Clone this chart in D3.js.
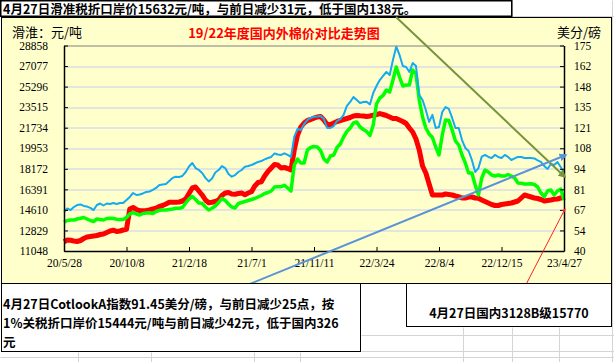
<!DOCTYPE html>
<html>
<head>
<meta charset="utf-8">
<script src="https://cdn.jsdelivr.net/npm/d3@7"></script>
<style>
  body { margin: 0; background: #fff; }
  svg { display: block; }
  .tick text { font-family: "Liberation Serif", serif; fill: #000; }
</style>
</head>
<body>
<div id="canvas"></div>
<script>
// weekly data, 2020/5/28 - 2023/4/27
var startDate = new Date(2020, 4, 28);

// Cotlook A index, cents/lb (right axis)
var cotlookA = [65.8,67.9,66.9,68.9,70.2,70.6,69.6,69.2,68.3,66.9,
70.2,71.2,69.9,71.2,70.9,71.5,70.9,71.5,71.5,73.5,
75.5,78.1,76.8,77.1,77.8,78.8,79.1,80.1,81.4,83.4,
83.7,84.0,86.0,88.0,88.8,88.6,89.3,91.9,95.5,97.8,
94.5,93.2,91.2,88.0,85.7,87.6,91.6,93.2,95.8,94.5,
90.6,88.8,89.9,91.9,93.2,95.4,95.8,96.5,97.5,98.5,
99.1,100.2,101.1,101.8,104.1,103.4,103.1,104.2,103.1,101.8,
114.9,120.2,119.5,123.4,126.1,127.4,128.2,128.4,128.7,126.7,
120.8,120.8,122.1,125.4,126.7,129.4,135.3,137.9,141.2,139.2,
137.2,137.9,138.1,136.3,143.8,148.4,152.3,155.0,157.6,155.6,
165.5,174.2,168.8,161.5,160.9,157.6,163.5,161.5,142.5,139.2,
132.6,124.8,129.4,120.8,121.5,131.3,134.6,133.3,127.4,120.8,
120.8,112.9,107.7,105.7,99.8,91.9,94.5,102.0,103.1,101.8,
101.1,103.1,101.8,101.1,103.1,101.8,99.8,100.8,101.8,101.8,
101.1,101.1,101.1,100.8,99.5,98.5,95.8,93.9,97.2,96.5,
98.5,95.2,91.45];

// 1% tariff landed price, yuan/t (left axis)
var tariff1 = [13535,13691,13735,13735,13821,13882,13951,13821,13691,13605,
13821,13778,13735,13865,13882,13865,13795,13778,13778,13951,
14255,14367,14255,14168,14298,14341,14367,14298,14471,14575,
14601,14601,14645,14688,14749,14749,14818,15208,15555,15772,
15512,15208,15182,14861,14601,14749,14948,15251,15598,15425,
15121,14861,14775,15165,15251,15338,15425,15512,15598,15728,
15858,16032,16118,16248,16595,16621,16621,16742,16508,16248,
18502,19022,18675,18675,19802,20018,20105,20062,19758,19022,
18762,19282,19368,20018,20322,20928,21405,21708,22142,22228,
21795,21578,21405,21058,21968,23788,24309,24525,25002,24829,
25869,26995,26129,25349,25435,25435,26735,26389,24135,22662,
21708,21188,20885,20062,19368,21102,22402,22358,21535,20582,
20235,19368,18675,17808,17808,16768,15902,17375,18068,17895,
17635,17548,17635,17548,17548,17678,17548,17375,16942,16916,
16855,16855,16872,16812,16595,16075,15754,16248,16335,15902,
16248,16422,15444];

// domestic 3128B, yuan/t (left axis)
var domestic = [11854,12001,11975,11915,11871,11958,12131,12261,12305,12348,
12391,12478,12521,12651,12781,12851,12738,12781,12868,12929,
14688,14818,14645,14541,14541,14558,14601,14688,14749,14905,
14991,15121,15269,15269,15277,15295,15382,15555,16032,16508,
16595,16248,15902,15468,15234,15269,15338,15468,15858,16075,
16118,15988,15971,16032,16075,15928,16075,16188,16682,16985,
17054,17548,17938,18242,18545,18502,18242,18285,18198,18068,
19802,21102,21795,22142,22358,22445,22558,22662,22705,22402,
22012,22012,22142,22272,22358,22445,22532,22618,22748,22792,
22766,22748,22705,22748,22818,22878,22957,22878,22792,22662,
22532,22532,22402,22272,22098,21708,21362,20755,19802,18415,
17808,16855,15902,15902,15902,15902,15988,15945,15902,15815,
15754,15641,15641,15728,15728,15641,15615,15468,15338,15208,
15078,14991,14991,15078,15121,15165,15208,15295,15382,15641,
15902,15815,15728,15641,15598,15511,15382,15425,15468,15529,
15555,15641,15770];

var leftTicks = [11048,12829,14610,16391,18172,19953,21734,23515,25296,27077,28858];
var rightTicks = [40,53.5,67,80.5,94,107.5,121,134.5,148,161.5,175];
var xTickLabels = ['2020-05-28','2020-10-08','2021-02-18','2021-07-01','2021-11-11',
  '2022-03-24','2022-08-04','2022-12-15','2023-04-27'];

var headText = '4月27日滑准税折口岸价15632元/吨，与前日减少31元，低于国内138元。';
var boxLines = ['4月27日CotlookA指数91.45美分/磅，与前日减少25点，按',
  '1%关税折口岸价15444元/吨与前日减少42元，低于国内326',
  '元'];
var boxText2 = '4月27日国内3128B级15770';

var W = 614, H = 362;
var m = {t:45.5, r:50, b:111, l:64};
var w = W - m.l - m.r, h = H - m.t - m.b;

var svg = d3.select('#canvas').append('svg')
    .attr('width', W).attr('height', H);

// spreadsheet cell lines
var cellLines = [
  [512, 0, 512, 17], [612, 0, 612, 362], [512, 16, 614, 16],
  [361, 335, 614, 335], [361, 351, 614, 351], [0, 357, 614, 357],
  [78, 352, 78, 362], [151, 352, 151, 362], [254, 352, 254, 362], [300, 352, 300, 362],
  [463, 327, 463, 362], [512, 327, 512, 362], [559, 327, 559, 362]
];
svg.selectAll('.cell').data(cellLines).enter().append('line')
    .attr('x1', function(d){return d[0] + .5}).attr('y1', function(d){return d[1] + .5})
    .attr('x2', function(d){return d[2] + .5}).attr('y2', function(d){return d[3] + .5})
    .attr('stroke', '#d4d4d4');

// header
svg.append('rect').attr('x', .75).attr('y', .75).attr('width', 511).attr('height', 15.5)
    .attr('fill', '#fff').attr('stroke', '#000').attr('stroke-width', 1.5);
svg.append('text').attr('x', 3).attr('y', 13.5)
    .style('font-family', '"Noto Sans CJK SC"').style('font-size', '12.5px').style('font-weight', 'bold')
    .text(headText);

// chart area
svg.append('rect').attr('x', 1.5).attr('y', 17.5).attr('width', 610).attr('height', 266)
    .attr('fill', '#FFFFCC').attr('stroke', '#000');

var plot = svg.append('g').attr('transform', 'translate(' + m.l + ',' + m.t + ')');

var x = d3.scaleTime().domain([startDate, new Date(2023, 3, 27)]).range([0, w]);
var yL = d3.scaleLinear().domain([11048, 28858]).range([h, 0]);
var yR = d3.scaleLinear().domain([40, 175]).range([h, 0]);
var parseDate = d3.timeParse('%Y-%m-%d');

// gridlines
plot.selectAll('.grid').data(leftTicks.slice(1, -1)).enter().append('line')
    .attr('x1', 0).attr('x2', w)
    .attr('y1', function(d){return Math.round(yL(d)) + .5})
    .attr('y2', function(d){return Math.round(yL(d)) + .5})
    .attr('stroke', '#c6cdee');
plot.append('line').attr('x1', 0).attr('x2', w).attr('y1', .5).attr('y2', .5).attr('stroke', '#808080');

var dates = cotlookA.map(function(d, i){ return d3.timeDay.offset(startDate, i * 7); });

function series(vals) {
  return vals.map(function(v, i){ return [dates[i], v]; });
}
var lineL = d3.line().x(function(d){return x(d[0])}).y(function(d){return yL(d[1])});
var lineR = d3.line().x(function(d){return x(d[0])}).y(function(d){return yR(d[1])});

plot.append('path').datum(series(domestic)).attr('d', lineL)
    .attr('fill', 'none').attr('stroke', '#ff0000').attr('stroke-width', 5).attr('stroke-linejoin', 'round');
plot.append('path').datum(series(tariff1)).attr('d', lineL)
    .attr('fill', 'none').attr('stroke', '#00ff00').attr('stroke-width', 3.5).attr('stroke-linejoin', 'round');
plot.append('path').datum(series(cotlookA)).attr('d', lineR)
    .attr('fill', 'none').attr('stroke', '#14aaf0').attr('stroke-width', 2).attr('stroke-linejoin', 'round');

// axes
var axisL = d3.axisLeft(yL).tickValues(leftTicks).tickSizeInner(-4).tickSizeOuter(0).tickPadding(16)
    .tickFormat(d3.format('d'));
plot.append('g').call(axisL);
var axisR = d3.axisRight(yR).tickValues(rightTicks).tickSizeInner(-4).tickSizeOuter(0).tickPadding(10)
    .tickFormat(function(d){ return Math.round(d); });
plot.append('g').attr('transform', 'translate(' + w + ',0)').call(axisR);
var axisX = d3.axisBottom(x).tickValues(xTickLabels.map(parseDate)).tickSizeInner(-4).tickSizeOuter(0)
    .tickPadding(8).tickFormat(d3.timeFormat('%y/%-m/%-d'));
plot.append('g').attr('transform', 'translate(0,' + h + ')').call(axisX);

plot.selectAll('.domain').attr('stroke', '#000').attr('stroke-width', 1.5);
plot.selectAll('.tick line').attr('stroke', '#000');
plot.selectAll('.tick text').style('font-size', '11.5px');

// titles
svg.append('text').attr('x', 12).attr('y', 37)
    .style('font-family', '"Noto Sans CJK SC"').style('font-size', '13px')
    .text('滑淮：元/吨');
svg.append('text').attr('x', 284).attr('y', 38).attr('text-anchor', 'middle')
    .style('font-family', '"Noto Sans CJK SC"').style('font-size', '13px').style('font-weight', 'bold')
    .attr('fill', '#ff0000')
    .text('19/22年度国内外棉价对比走势图');
svg.append('text').attr('x', 557).attr('y', 37)
    .style('font-family', '"Noto Sans CJK SC"').style('font-size', '13px')
    .text('美分/磅');

// annotation arrows
var defs = svg.append('defs');
function marker(id, color) {
  defs.append('marker').attr('id', id).attr('viewBox', '0 0 10 10')
      .attr('refX', 8).attr('refY', 5).attr('markerWidth', 4).attr('markerHeight', 4)
      .attr('orient', 'auto').append('path').attr('d', 'M0,0L10,5L0,10Z').attr('fill', color);
}
marker('arG', '#77933c'); marker('arB', '#5b93d8'); marker('arR', '#ff2020');

svg.append('line').attr('x1', 396).attr('y1', 17).attr('x2', 565).attr('y2', 177)
    .attr('stroke', '#77933c').attr('stroke-width', 2).attr('marker-end', 'url(#arG)');
svg.append('line').attr('x1', 240).attr('y1', 288).attr('x2', 566).attr('y2', 155)
    .attr('stroke', '#5b93d8').attr('stroke-width', 2).attr('marker-end', 'url(#arB)');
svg.append('line').attr('x1', 518).attr('y1', 300).attr('x2', 565).attr('y2', 209)
    .attr('stroke', '#ff2020').attr('stroke-width', 1).attr('marker-end', 'url(#arR)');

// bottom text boxes
svg.append('rect').attr('x', 1.5).attr('y', 283.5).attr('width', 359).attr('height', 68)
    .attr('fill', '#fff').attr('stroke', '#000');
svg.selectAll('.bl').data(boxLines).enter().append('text')
    .attr('x', 3).attr('y', function(d, i){ return 309 + i * 19; })
    .style('font-family', '"Noto Sans CJK SC"').style('font-size', '12.5px').style('font-weight', 'bold')
    .text(function(d){return d});
svg.append('rect').attr('x', 406.5).attr('y', 283.5).attr('width', 205).attr('height', 43)
    .attr('fill', '#fff').attr('stroke', '#000');
svg.append('text').attr('x', 509).attr('y', 318).attr('text-anchor', 'middle')
    .style('font-family', '"Noto Sans CJK SC"').style('font-size', '12.5px').style('font-weight', 'bold')
    .text(boxText2);
</script>
</body>
</html>
